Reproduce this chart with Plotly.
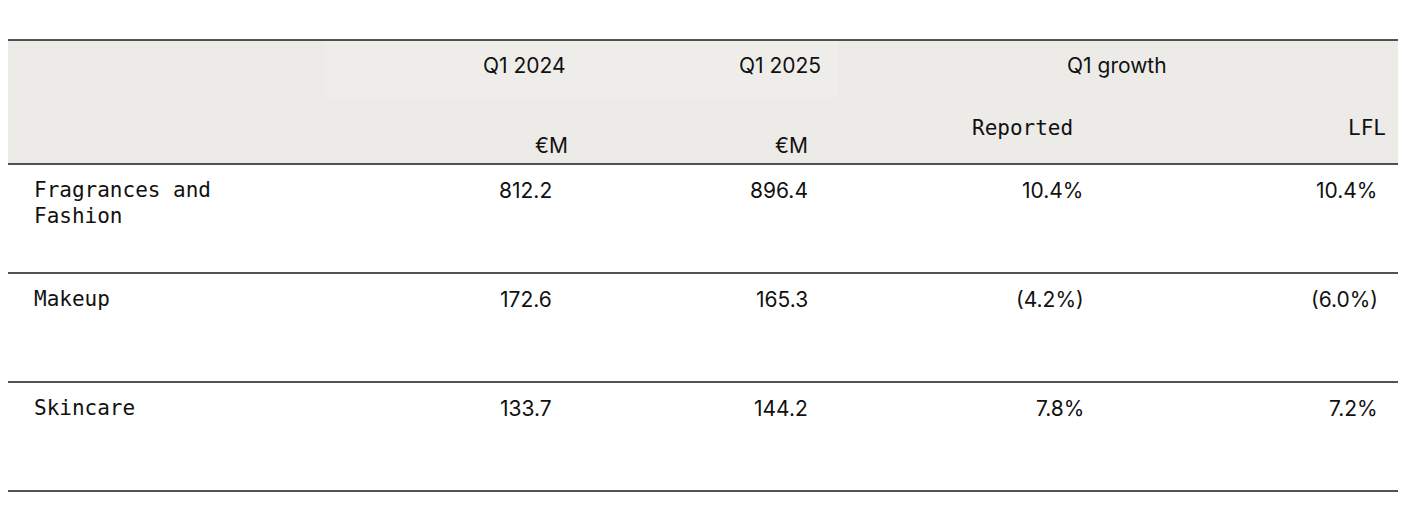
import plotly.graph_objects as go

segments = [["Fragrances and", "Fashion"], ["Makeup"], ["Skincare"]]
q1_2024 = ["812.2", "172.6", "133.7"]
q1_2025 = ["896.4", "165.3", "144.2"]
reported = ["10.4%", "(4.2%)", "7.8%"]
lfl = ["10.4%", "(6.0%)", "7.2%"]

W, H = 1418, 524
row_top = [164, 273, 382]
row_h = 109

fig = go.Figure()
# the page adds ~8px of body margin, so the axes are shifted to compensate
fig.update_xaxes(range=[8, W + 8], visible=False, fixedrange=True)
fig.update_yaxes(range=[H + 8, 8], visible=False, fixedrange=True)

# header band
fig.add_shape(type="rect", x0=8, x1=1398, y0=40, y1=164, fillcolor="#ECEBE8", line_width=0, layer="below")
fig.add_shape(type="rect", x0=325, x1=838, y0=40, y1=98, fillcolor="#EEEDEA", line_width=0, layer="below")
for y in [40, 164] + [t + row_h for t in row_top]:
    fig.add_shape(type="line", x0=8, x1=1398, y0=y, y1=y, line=dict(color="#1a1a1a", width=1.5))

font = dict(family="Inter, Liberation Sans, sans-serif", size=21, color="#111111")
def txt(x, y, s, anchor, f=font):
    fig.add_annotation(x=x, y=y, text=s, xanchor=anchor, yanchor="middle", showarrow=False, font=f, align="left")

txt(524, 65, "Q1 2024", "center")
txt(780, 65, "Q1 2025", "center")
txt(1117, 65, "Q1 growth", "center")
txt(570, 145, "€M", "right")
txt(810, 145, "€M", "right")
txt(1022, 128, "Reported", "center", dict(font, family="DejaVu Sans Mono"))
txt(1388, 128, "LFL", "right", dict(font, family="DejaVu Sans Mono"))

label_font = dict(font, family="DejaVu Sans Mono", size=21)
for i, t in enumerate(row_top):
    for k, line in enumerate(segments[i]):
        txt(32, t + 26 + 26 * k, line, "left", label_font)
    txt(554, t + 26, q1_2024[i], "right")
    txt(810, t + 26, q1_2025[i], "right")
    txt(1086, t + 26, reported[i], "right")
    txt(1380, t + 26, lfl[i], "right")

fig.update_layout(width=W, height=H, margin=dict(l=0, r=0, t=0, b=0),
                  plot_bgcolor="white", paper_bgcolor="white", showlegend=False)
fig.write_html("out.html")
